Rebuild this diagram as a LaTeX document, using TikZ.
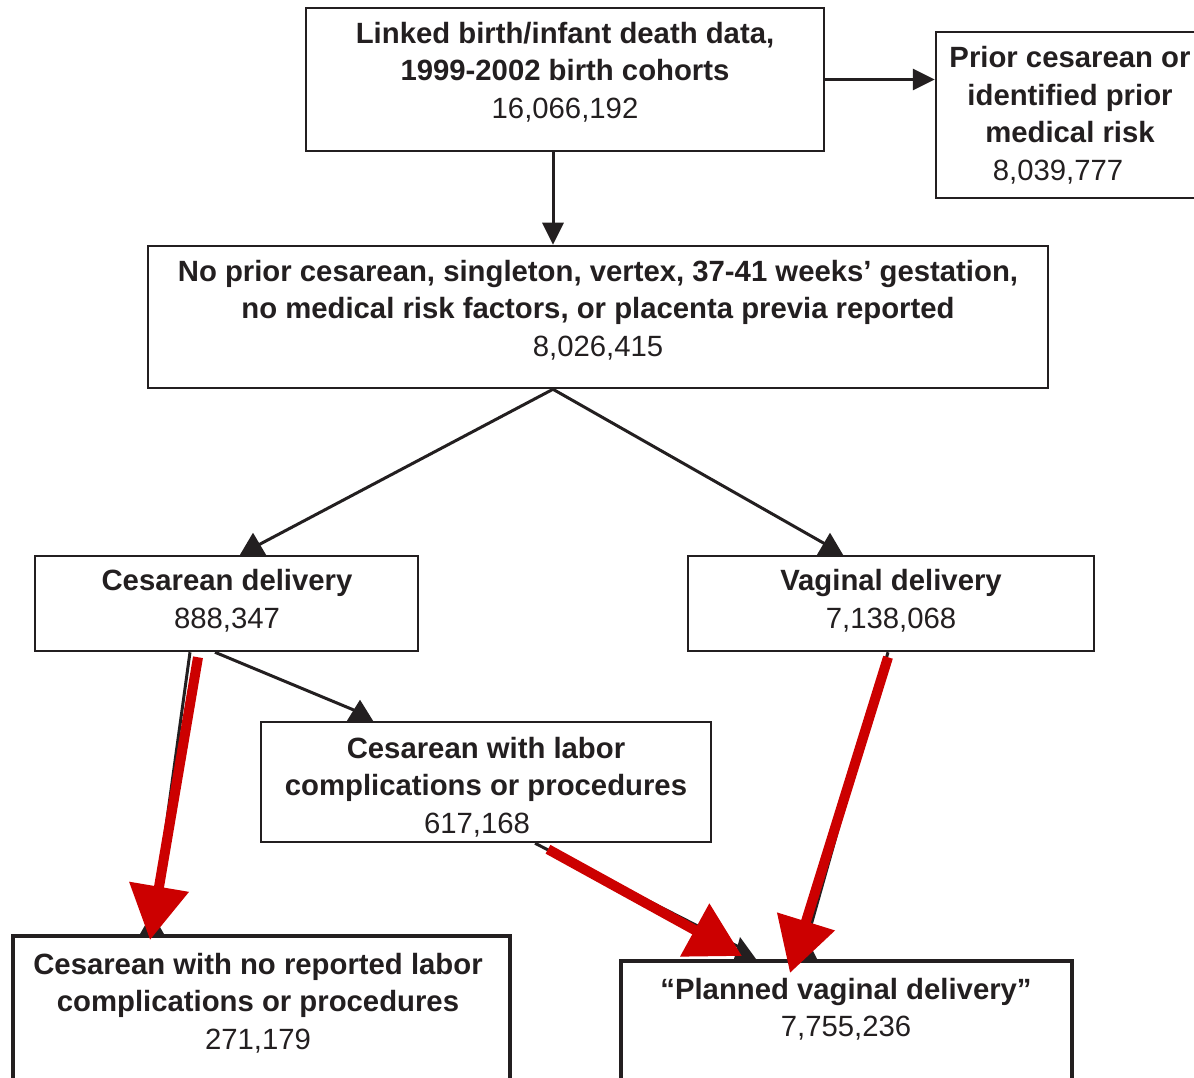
\documentclass[tikz,border=0pt]{standalone}
\usepackage{fontspec}
\setmainfont{Liberation Sans}
\usetikzlibrary{arrows.meta,calc}
\definecolor{ink}{HTML}{231F20}
\definecolor{redarr}{HTML}{CC0000}
\begin{document}
\begin{tikzpicture}[x=1pt,y=-1pt,
  box/.style={draw=ink, line width=2.5pt, rectangle, inner sep=0pt},
  bigbox/.style={box, line width=4pt},
  txt/.style={align=center, font=\fontsize{29.3}{37.5}\selectfont, text=ink, inner sep=0pt},
  conn/.style={draw=ink, line width=3pt},
  carr/.style={conn, -{Triangle[length=22pt,width=21pt]}},
  rarr/.style={draw=redarr, line width=10pt, -{Triangle[length=54pt,width=58pt]}},
  tri/.style={fill=ink}
]
\useasboundingbox (0,0) rectangle (1194,1078);

% boxes
\node[box, minimum width=518pt, minimum height=143pt] (b1) at (565,79.5) {};
\node[box, minimum width=274pt, minimum height=166pt] (b2) at (1073,115) {};
\node[box, minimum width=900pt, minimum height=142pt] (b3) at (598,317) {};
\node[box, minimum width=383pt, minimum height=95pt] (b4) at (226.5,603.5) {};
\node[box, minimum width=406pt, minimum height=95pt] (b5) at (891,603.5) {};
\node[box, minimum width=450pt, minimum height=120pt] (b6) at (486,782) {};
\node[bigbox, minimum width=497pt, minimum height=164pt] (b7) at (261.5,1018) {};
\node[bigbox, minimum width=451pt, minimum height=139pt] (b8) at (846.5,1030.5) {};

% texts
\node[txt] (t1) at (565,72) {\textbf{Linked birth/infant death data,}\\\textbf{1999-2002 birth cohorts}\\16,066,192};
\node[txt] (t2) at (1070,115.5) {\textbf{Prior cesarean or}\\\textbf{identified prior}\\\textbf{medical risk}\\8,039,777\hspace*{24pt}};
\node[txt] (t3) at (598,310) {\textbf{No prior cesarean, singleton, vertex, 37-41 weeks’ gestation,}\\\textbf{no medical risk factors, or placenta previa reported}\\8,026,415};
\node[txt] (t4) at (227,601) {\textbf{Cesarean delivery}\\888,347};
\node[txt] (t5) at (891,601) {\textbf{Vaginal delivery}\\7,138,068};
\node[txt] (t6) at (486,787) {\textbf{Cesarean with labor}\\\textbf{complications or procedures}\\617,168\hspace*{18pt}};
\node[txt] (t7) at (258,1003) {\textbf{Cesarean with no reported labor}\\\textbf{complications or procedures}\\271,179};
\node[txt] (t8) at (846,1009) {\textbf{“Planned vaginal delivery”}\\7,755,236};

% straight black arrows
\coordinate (a1) at ($(b1.south)+(-12,0)$);
\draw[carr] (a1) -- (a1 |- b3.north);
\draw[carr] (b1.east) -- (b1.east -| b2.west);

% black connectors with upright triangle heads
\coordinate (sC) at ($(b3.south)+(-45,0)$);
\coordinate (pC) at ($(b4.north)+(26.5,0)$);
\draw[conn] (sC) -- ($(pC)+(2,-8)$);
\fill[tri] ($(pC)+(-13,0)$) -- ($(pC)+(0,-22)$) -- ($(pC)+(13,0)$) -- cycle;

\coordinate (pD) at ($(b5.north)+(-61,0)$);
\draw[conn] (sC) -- ($(pD)+(0,-8)$);
\fill[tri] ($(pD)+(-13,0)$) -- ($(pD)+(0,-22)$) -- ($(pD)+(13,0)$) -- cycle;

\coordinate (pE) at ($(b6.north)+(-126,0)$);
\draw[conn] ($(b4.south)+(-11.5,0)$) -- ($(pE)+(-2,-9)$);
\fill[tri] ($(pE)+(-13,0)$) -- ($(pE)+(0,-21)$) -- ($(pE)+(13,0)$) -- cycle;

\coordinate (pF) at ($(b7.north)+(-109.5,0)$);
\draw[conn] ($(b4.south)+(-36.5,0)$) -- ($(pF)+(0,-6)$);
\fill[tri] ($(pF)+(-12,0)$) -- ($(pF)+(0,-21)$) -- ($(pF)+(12,0)$) -- cycle;

\coordinate (pG) at ($(b8.north)+(-101.5,0)$);
\draw[conn] ($(b6.south)+(49,0)$) -- ($(pG)+(-4,-11)$);
\fill[tri] ($(pG)+(-11,0)$) -- ($(pG)+(-5,-22)$) -- ($(pG)+(11,0)$) -- cycle;

\coordinate (pH) at ($(b8.north)+(-40.5,0)$);
\draw[conn] ($(b5.south)+(-3,0)$) -- ($(pH)+(0,-16)$);
\fill[tri] ($(pH)+(-11,0)$) -- ($(pH)+(0,-22)$) -- ($(pH)+(11,0)$) -- cycle;

% red arrows
\draw[rarr] ($(b4.south)+(-28.5,5)$) -- ($(b7.north)+(-111.5,6)$);
\draw[rarr] ($(b6.south)+(62,6)$) -- ($(b8.north)+(-104.5,-3)$);
\draw[rarr] ($(b5.south)+(-3,5)$) -- ($(b8.north)+(-56.5,14)$);
\end{tikzpicture}
\end{document}
